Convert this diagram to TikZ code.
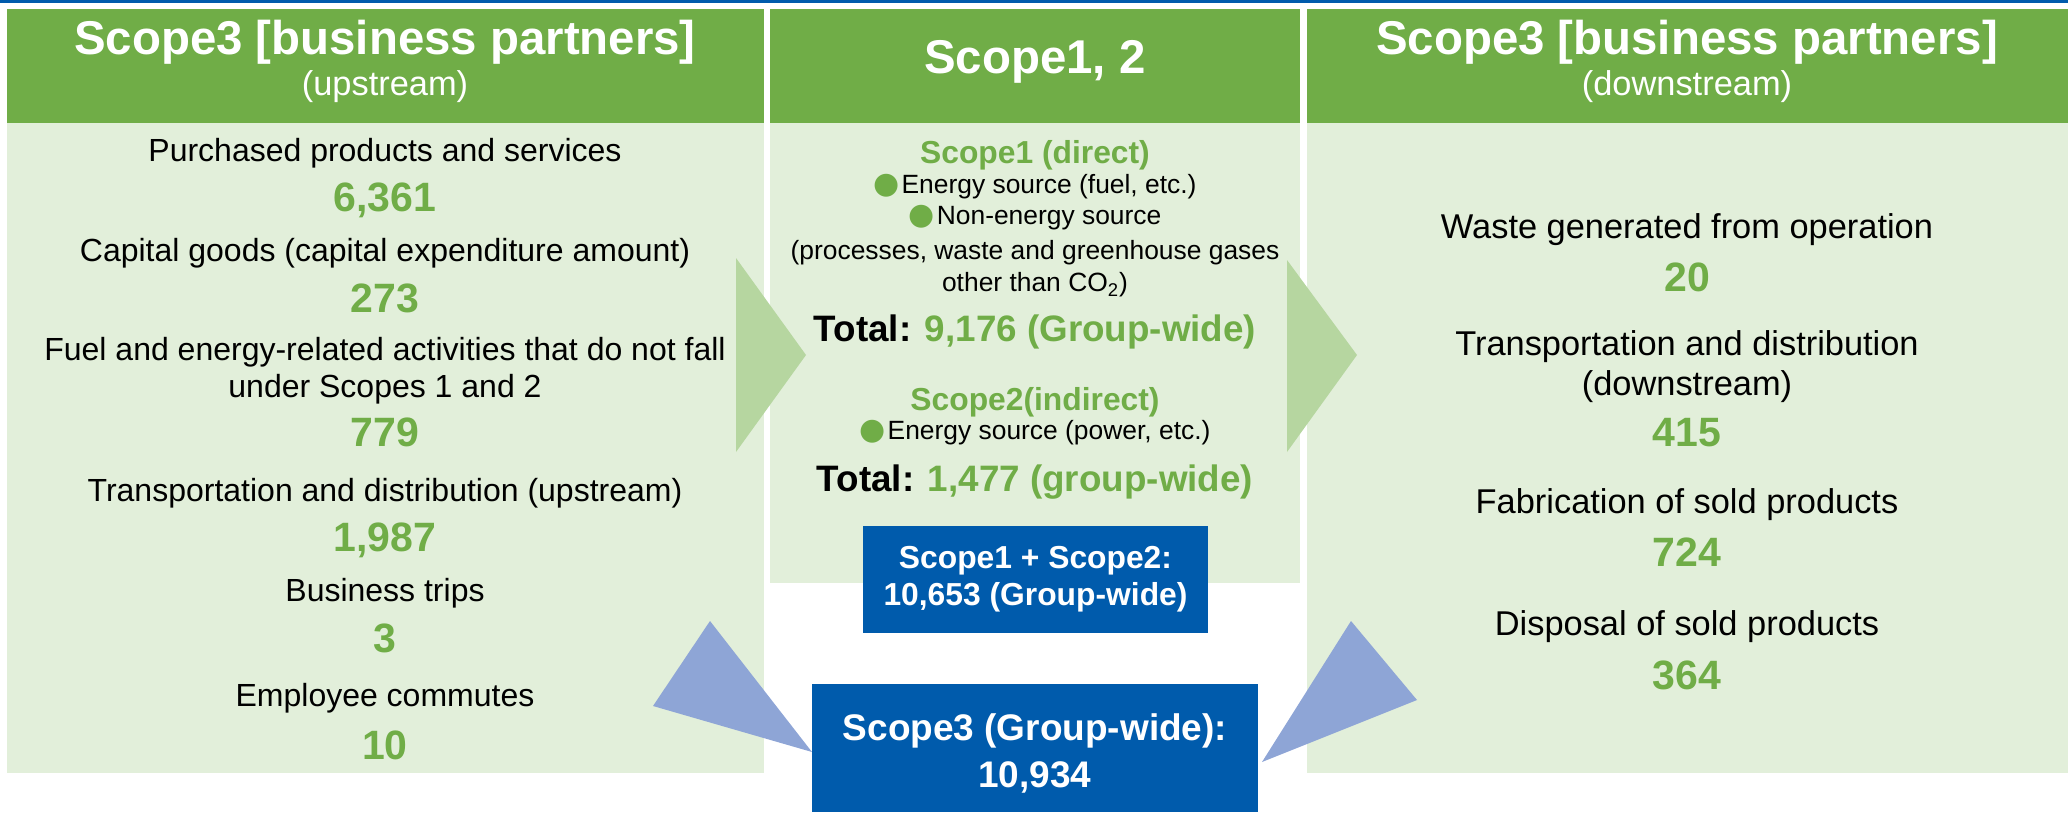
\documentclass[tikz,border=0pt]{standalone}
\usepackage{fontspec}
\setmainfont{Liberation Sans}
\newfontfamily\bulletfont{DejaVu Sans}
\usepackage{xcolor}
\usetikzlibrary{positioning}

\definecolor{topblue}{RGB}{0,91,172}
\definecolor{headgreen}{RGB}{112,173,71}
\definecolor{paleGreen}{RGB}{226,239,218}
\definecolor{arrowgreen}{RGB}{182,214,160}
\definecolor{boxblue}{RGB}{0,91,172}
\definecolor{softblue}{RGB}{142,165,214}

\newcommand{\dotmark}{{\bulletfont\fontsize{15}{16}\selectfont\textcolor{headgreen}{●}}\kern1pt}

\begin{document}
\begin{tikzpicture}[
    x=0.5pt, y=-0.5pt,
    colhead/.style={text=white, font=\bfseries\fontsize{23.7}{28}\selectfont, inner sep=0pt},
    colsub/.style={text=white, font=\fontsize{17.2}{20}\selectfont, inner sep=0pt},
    item/.style={font=\fontsize{16}{18.5}\selectfont, inner sep=0pt, align=center},
    itemr/.style={font=\fontsize{17.2}{20}\selectfont, inner sep=0pt, align=center},
    value/.style={text=headgreen, font=\bfseries\fontsize{20.5}{24}\selectfont, inner sep=0pt},
    subhead/.style={text=headgreen, font=\bfseries\fontsize{15.9}{19}\selectfont, inner sep=0pt},
    detail/.style={font=\fontsize{13.2}{16}\selectfont, inner sep=0pt, align=center},
    total/.style={font=\bfseries\fontsize{18.4}{22}\selectfont, inner sep=0pt},
    bluebox/.style={fill=boxblue, text=white, align=center, inner sep=0pt}
]
    \useasboundingbox (0,0) rectangle (2068,815);
    \fill[topblue] (0,0) rectangle (2068,3);

    % panels
    \fill[paleGreen] (7,123) rectangle (764,773);
    \fill[headgreen] (7,9) rectangle (764,123);
    \fill[paleGreen] (770,123) rectangle (1300,583);
    \fill[headgreen] (770,9) rectangle (1300,123);
    \fill[paleGreen] (1307,123) rectangle (2068,773);
    \fill[headgreen] (1307,9) rectangle (2068,123);

    % arrows
    \fill[arrowgreen] (736,258) -- (806,355) -- (736,452) -- cycle;
    \fill[arrowgreen] (1287,260) -- (1357,355) -- (1287,452) -- cycle;
    \fill[softblue] (710,621) -- (653,706) -- (812,752) -- cycle;
    \fill[softblue] (1351,621) -- (1417,700) -- (1262,762) -- cycle;

    % upstream
    \node[colhead] (uphead) at (385,42) {Scope3 [business partners]};
    \node[colsub] (upsub) at (385,87) {(upstream)};
    \node[item] (up1) at (385,153) {Purchased products and services};
    \node[value] (up1v) at (385,200) {6,361};
    \node[item] (up2) at (385,253) {Capital goods (capital expenditure amount)};
    \node[value] (up2v) at (385,298) {273};
    \node[item] (up3) at (385,371) {Fuel and energy-related activities that do not fall\\under Scopes 1 and 2};
    \node[value] (up3v) at (385,432) {779};
    \node[item] (up4) at (385,493) {Transportation and distribution (upstream)};
    \node[value] (up4v) at (385,540) {1,987};
    \node[item] (up5) at (385,593) {Business trips};
    \node[value] (up5v) at (385,638) {3};
    \node[item] (up6) at (385,698) {Employee commutes};
    \node[value] (up6v) at (385,745) {10};

    % scope 1 and 2
    \node[colhead] (midhead) at (1035,62) {Scope1, 2};
    \node[subhead] (s1) at (1035,155) {Scope1 (direct)};
    \node[detail] (s1a) at (1035,187) {\dotmark Energy source (fuel, etc.)};
    \node[detail] (s1b) at (1035,218) {\dotmark Non-energy source};
    \node[detail] (s1c) at (1035,269) {(processes, waste and greenhouse gases\\other than CO\textsubscript{2})};
    \node[total] (s1t) at (1035,332) {Total: \textcolor{headgreen}{9,176 (Group-wide)}};
    \node[subhead] (s2) at (1035,402) {Scope2(indirect)};
    \node[detail] (s2a) at (1035,433) {\dotmark Energy source (power, etc.)};
    \node[total] (s2t) at (1035,482) {Total: \textcolor{headgreen}{1,477 (group-wide)}};

    \node[bluebox, minimum width=172.5pt, minimum height=53.5pt,
          font=\bfseries\fontsize{15.9}{18.5}\selectfont] (s12box) at (1035.5,579.5) {Scope1 + Scope2:\\10,653 (Group-wide)};
    \node[bluebox, minimum width=223pt, minimum height=64pt] (s3box) at (1035,748) {};
    \node[text=white, align=center, inner sep=0pt,
          font=\bfseries\fontsize{18.5}{23.5}\selectfont] (s3text) at (1035,753.5) {Scope3 (Group-wide):\\10,934};

    % downstream
    \node[colhead] (downhead) at (1687,42) {Scope3 [business partners]};
    \node[colsub] (downsub) at (1687,87) {(downstream)};
    \node[itemr] (dn1) at (1687,230) {Waste generated from operation};
    \node[value] (dn1v) at (1687,277) {20};
    \node[itemr] (dn2) at (1687,367) {Transportation and distribution\\(downstream)};
    \node[value] (dn2v) at (1687,433) {415};
    \node[itemr] (dn3) at (1687,505) {Fabrication of sold products};
    \node[value] (dn3v) at (1687,552) {724};
    \node[itemr] (dn4) at (1687,627) {Disposal of sold products};
    \node[value] (dn4v) at (1687,675) {364};
\end{tikzpicture}
\end{document}
